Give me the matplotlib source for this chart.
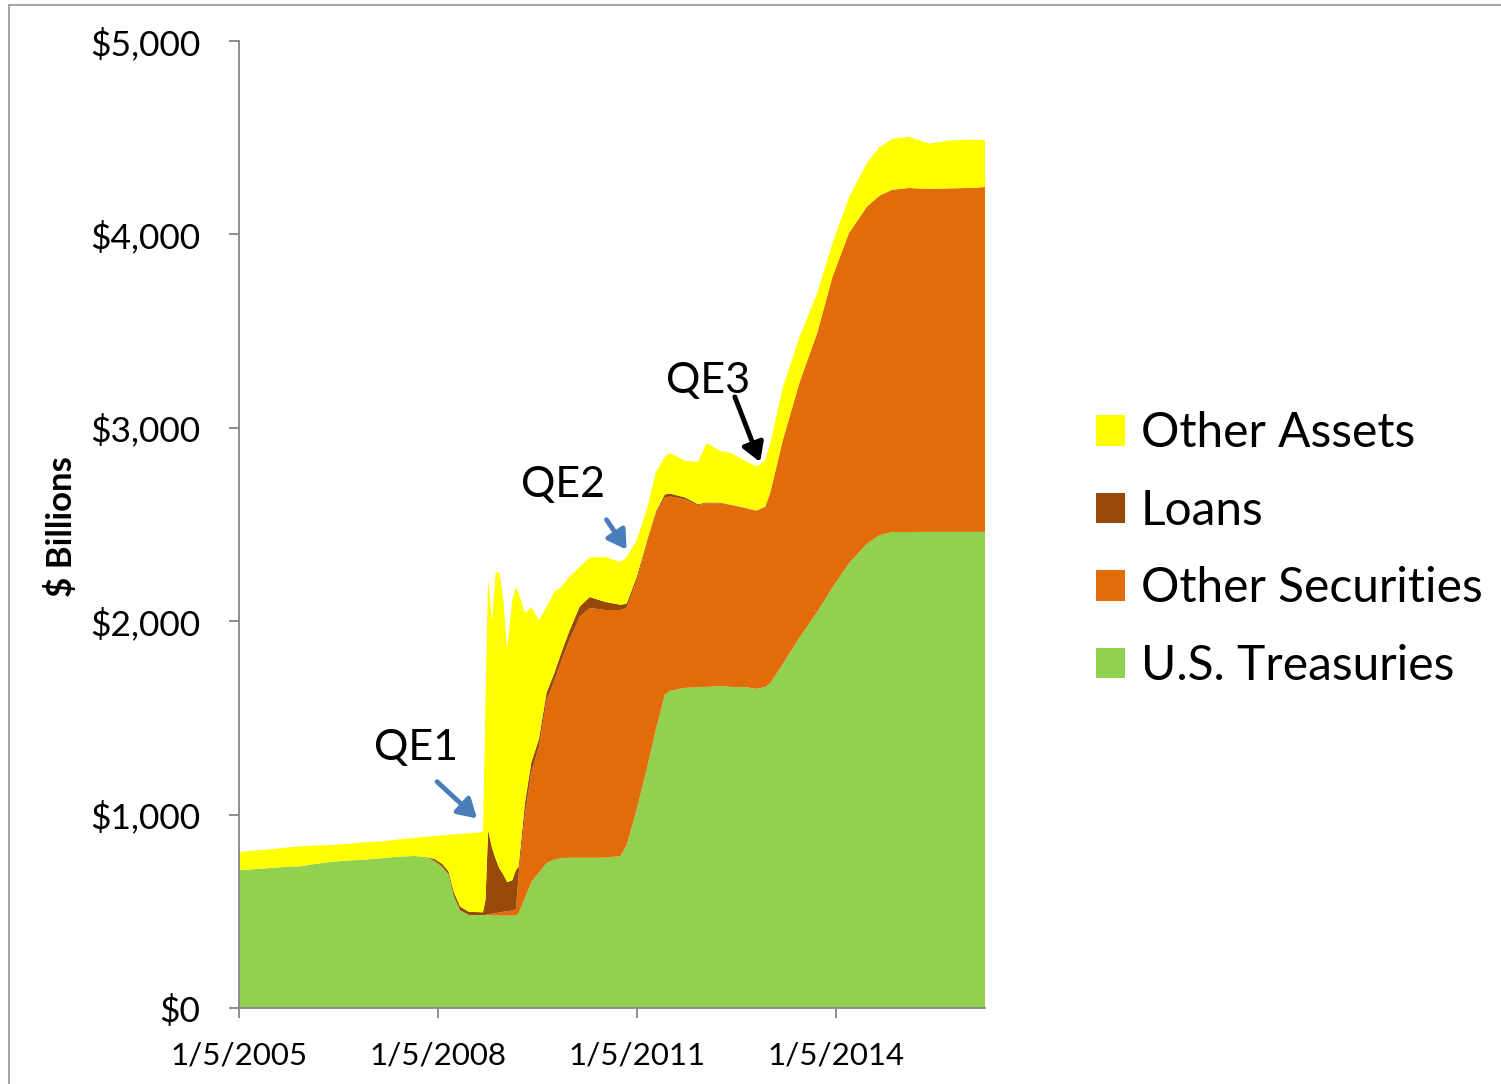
import matplotlib
matplotlib.use("Agg")
import matplotlib.pyplot as plt
import matplotlib.dates as mdates
from matplotlib.patches import Patch
from matplotlib.lines import Line2D
import numpy as np
import pandas as pd

plt.rcParams['font.family'] = ['Lato', 'DejaVu Sans']

# ---- data ($ billions) ----
dates = [
    "2005-01-05", "2005-03-02", "2005-06-01", "2005-09-07", "2005-12-07",
    "2006-03-01", "2006-06-07", "2006-09-06", "2006-12-06", "2007-03-07",
    "2007-06-06", "2007-09-05", "2007-11-07", "2007-12-19", "2008-01-30",
    "2008-03-05", "2008-04-02", "2008-05-07", "2008-06-25", "2008-09-10",
    "2008-09-24", "2008-10-08", "2008-10-29", "2008-11-19", "2008-12-10",
    "2008-12-31", "2009-01-21", "2009-02-18", "2009-03-11", "2009-03-25",
    "2009-04-29", "2009-06-03", "2009-07-15", "2009-08-26", "2009-10-07",
    "2009-11-18", "2009-12-30", "2010-02-24", "2010-04-21", "2010-07-14",
    "2010-10-06", "2010-11-10", "2011-01-05", "2011-03-02", "2011-04-20",
    "2011-06-08", "2011-07-06", "2011-09-28", "2011-12-07", "2012-01-25",
    "2012-04-11", "2012-06-06", "2012-08-22", "2012-10-24", "2012-12-12",
    "2013-01-09", "2013-03-20", "2013-06-19", "2013-09-25", "2013-12-18",
    "2014-03-19", "2014-06-25", "2014-09-03", "2014-11-12", "2015-02-11",
    "2015-06-03", "2015-09-23", "2016-01-13", "2016-04-06",
]

us_treasuries = [
    714, 716, 722, 729, 733, 745, 757, 763, 768, 775,
    783, 786, 780, 760, 730, 690, 580, 505, 481, 481,
    481, 481, 478, 478, 478, 478, 478, 478, 478, 490,
    570, 650, 700, 750, 768, 775, 777, 777, 777, 777,
    786, 840, 1028, 1240, 1440, 1620, 1640, 1655, 1660, 1660,
    1665, 1660, 1660, 1650, 1660, 1680, 1780, 1915, 2049, 2175,
    2300, 2400, 2445, 2461, 2461, 2462, 2462, 2462, 2462,
]

other_securities = [
    0, 0, 0, 0, 0, 0, 0, 0, 0, 0,
    0, 0, 0, 0, 0, 0, 0, 0, 0, 0,
    0, 4, 10, 12, 17, 20, 22, 27, 32, 200,
    430, 570, 650, 840, 922, 1025, 1126, 1245, 1291, 1281,
    1272, 1230, 1185, 1164, 1119, 1020, 1005, 975, 940, 950,
    945, 940, 925, 920, 930, 983, 1157, 1317, 1441, 1605,
    1707, 1742, 1755, 1769, 1779, 1773, 1776, 1778, 1783,
]

loans = [
    0, 0, 0, 0, 0, 0, 0, 0, 0, 0,
    0, 0, 0, 10, 15, 15, 20, 20, 16, 14,
    79, 435, 342, 280, 225, 192, 151, 155, 204, 40,
    60, 50, 40, 40, 40, 45, 47, 53, 57, 42,
    27, 20, 17, 11, 7, 15, 15, 10, 5, 4,
    3, 2, 2, 2, 2, 2, 2, 2, 2, 1,
    1, 1, 1, 1, 0, 0, 0, 0, 0,
]

other_assets = [
    91, 96, 96, 99, 103, 95, 86, 87, 90, 87,
    89, 94, 106, 120, 148, 191, 298, 375, 407, 415,
    1040, 1303, 1170, 1484, 1529, 1420, 1200, 1450, 1463, 1416,
    982, 803, 616, 443, 420, 335, 280, 205, 205, 232,
    221, 240, 190, 165, 204, 195, 210, 190, 218, 307,
    267, 268, 243, 228, 238, 256, 272, 236, 205, 174,
    185, 226, 249, 263, 265, 235, 247, 250, 243,
]

series_names = ["U.S. Treasuries", "Other Securities", "Loans", "Other Assets"]
series_colors = ["#92D050", "#E36C0A", "#984807", "#FFFF00"]

tick_dates = ["2005-01-05", "2008-01-05", "2011-01-05", "2014-01-05"]
tick_labels = ["1/5/2005", "1/5/2008", "1/5/2011", "1/5/2014"]
y_ticks = [0, 1000, 2000, 3000, 4000, 5000]
y_tick_labels = ["$0", "$1,000", "$2,000", "$3,000", "$4,000", "$5,000"]

# ---- figure ----
W, H = 1501, 1084
fig = plt.figure(figsize=(W / 100, H / 100), dpi=100)
fig.patch.set_facecolor("white")

ax = fig.add_axes([239 / W, 1 - 1008 / H, (985 - 239) / W, (1008 - 41) / H])

x = pd.to_datetime(dates)
ax.stackplot(x, us_treasuries, other_securities, loans, other_assets,
             colors=series_colors, linewidth=0, antialiased=True)

ax.set_xlim(x[0], x[-1])
ax.set_ylim(0, 5000)

for s in ["top", "right"]:
    ax.spines[s].set_visible(False)
for s in ["left", "bottom"]:
    ax.spines[s].set_color("#868686")
    ax.spines[s].set_linewidth(1.3)

ax.set_yticks(y_ticks)
ax.set_yticklabels(y_tick_labels)
ax.set_xticks(pd.to_datetime(tick_dates))
ax.set_xticklabels(tick_labels)
ax.tick_params(axis="both", colors="#868686", length=7, width=1.3,
               labelcolor="black")
ax.tick_params(axis="y", pad=21, labelsize=25.5)
ax.tick_params(axis="x", pad=17, labelsize=22.5)
ax.set_ylabel("$ Billions", fontsize=25, fontweight="bold")
ax.yaxis.set_label_coords((78 - 239) / (985 - 239), (1008 - 527) / (1008 - 41))

# ---- annotations ----
def d(s):
    return mdates.date2num(pd.Timestamp(s))

ax.text(d("2007-09-05"), 1345, "QE1", fontsize=31, ha="center", va="center")
ax.annotate("", xy=(d("2008-08-08"), 980), xytext=(d("2008-01-01"), 1170),
            arrowprops=dict(arrowstyle="-|>,head_length=0.5,head_width=0.3",
                            color="#4A7EBB", lw=3.5, mutation_scale=22,
                            shrinkA=0, shrinkB=0))
ax.text(d("2009-11-25"), 2705, "QE2", fontsize=31, ha="center", va="center")
ax.annotate("", xy=(d("2010-11-10"), 2370), xytext=(d("2010-07-22"), 2525),
            arrowprops=dict(arrowstyle="-|>,head_length=0.5,head_width=0.3",
                            color="#4A7EBB", lw=3.5, mutation_scale=22,
                            shrinkA=0, shrinkB=0))
ax.text(d("2012-01-30"), 3240, "QE3", fontsize=31, ha="center", va="center")
ax.annotate("", xy=(d("2012-11-14"), 2823), xytext=(d("2012-06-28"), 3160),
            arrowprops=dict(arrowstyle="-|>,head_length=0.5,head_width=0.3",
                            color="black", lw=3.5, mutation_scale=22,
                            shrinkA=0, shrinkB=0))

# ---- legend ----
handles = [Patch(facecolor=c, edgecolor="none") for c in series_colors][::-1]
labels = series_names[::-1]
fig.legend(handles, labels, loc="center left",
           bbox_to_anchor=(1096 / W, 1 - 549.5 / H), frameon=False,
           fontsize=34.5, handlelength=0.6, handleheight=0.6,
           handletextpad=0.33, labelspacing=0.70, borderpad=0, borderaxespad=0)

# ---- chart-area border (left and top edges visible) ----
fig.add_artist(Line2D([9 / W, 9 / W], [0, 1 - 5 / H], transform=fig.transFigure,
                      color="#A6A6A6", lw=1.5))
fig.add_artist(Line2D([9 / W, 1], [1 - 5 / H, 1 - 5 / H], transform=fig.transFigure,
                      color="#A6A6A6", lw=1.5))

fig.savefig("out.png", dpi=100, facecolor="white")
